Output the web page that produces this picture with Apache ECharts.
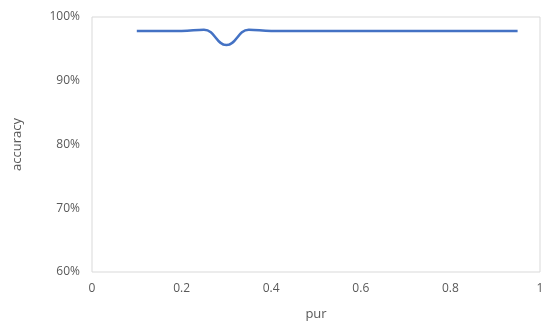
<!DOCTYPE html>
<html><head><meta charset="utf-8">
<script src="https://cdn.jsdelivr.net/npm/echarts@6/dist/echarts.min.js"></script>
<style>html,body{margin:0;padding:0;background:#fff}#c{width:550px;height:330px}</style>
</head><body><div id="c"></div>
<script>
var pur = [0.1, 0.15, 0.2, 0.25, 0.3, 0.35, 0.4, 0.45, 0.5, 0.55, 0.6, 0.65, 0.7, 0.75, 0.8, 0.85, 0.9, 0.95];
var accuracy = [97.8, 97.8, 97.8, 98.0, 95.6, 98.0, 97.8, 97.8, 97.8, 97.8, 97.8, 97.8, 97.8, 97.8, 97.8, 97.8, 97.8, 97.8];
var yTicks = [60, 70, 80, 90, 100];
var xTicks = [0, 0.2, 0.4, 0.6, 0.8, 1];

var chart = echarts.init(document.getElementById('c'));
var font = '"Open Sans", "Noto Sans", sans-serif';
chart.setOption({
  animation: false,
  grid: {left: 92, right: 10, top: 17, bottom: 58, show: true, borderColor: '#d9d9d9', borderWidth: 1},
  xAxis: {
    type: 'value', min: 0, max: 1, interval: 0.2,
    name: 'pur', nameLocation: 'middle', nameGap: 36,
    nameTextStyle: {color: '#595959', fontSize: 13, fontFamily: font},
    axisLine: {show: false}, axisTick: {show: false}, splitLine: {show: false},
    axisLabel: {color: '#595959', fontSize: 12, fontFamily: font, margin: 11,
      formatter: function (v) { return xTicks.indexOf(+v.toFixed(1)) >= 0 ? String(+v.toFixed(1)) : ''; }}
  },
  yAxis: {
    type: 'value', min: 60, max: 100, interval: 10,
    name: 'accuracy', nameLocation: 'middle', nameGap: 68, nameRotate: 90,
    nameTextStyle: {color: '#595959', fontSize: 13, fontFamily: font},
    axisLine: {show: false}, axisTick: {show: false}, splitLine: {show: false},
    axisLabel: {color: '#595959', fontSize: 12, fontFamily: font, margin: 12,
      formatter: function (v) { return yTicks.indexOf(v) >= 0 ? v + '%' : ''; }}
  },
  series: [{
    type: 'line', smooth: 0.45, showSymbol: false,
    data: pur.map(function (x, i) { return [x, accuracy[i]]; }),
    lineStyle: {color: '#4472C4', width: 2.5}
  }]
});
</script></body></html>
